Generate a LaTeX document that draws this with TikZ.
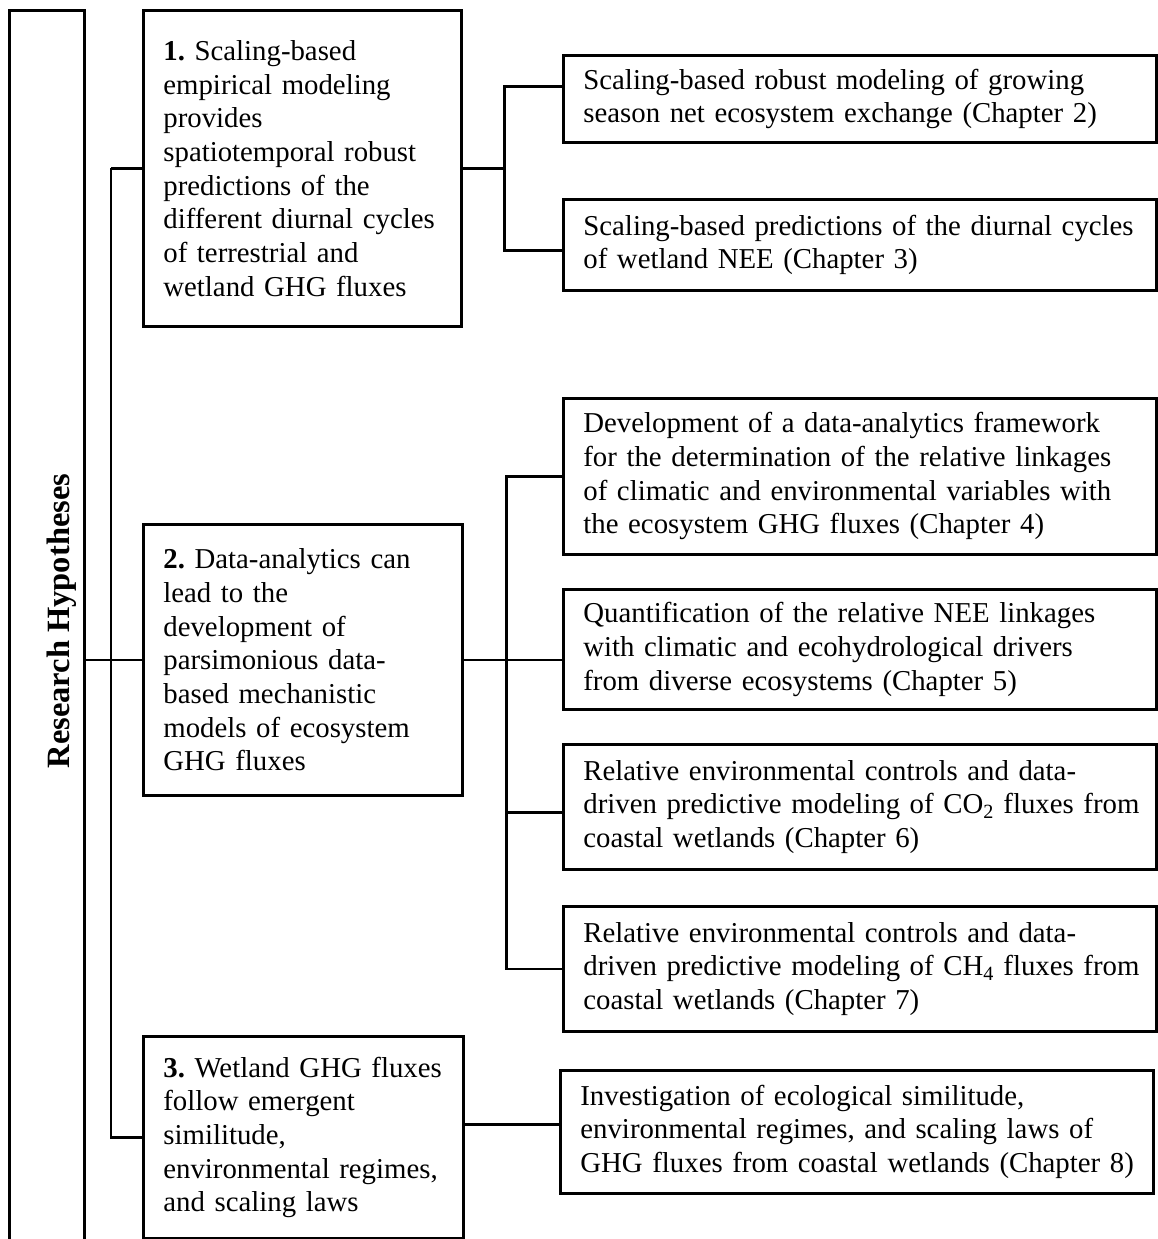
\documentclass[tikz,border=0pt]{standalone}
\usepackage{fontspec}
\setmainfont{Liberation Serif}
\usepackage{tikz}

\newcommand\boxfont{\fontsize{28.8}{33.7}\selectfont\frenchspacing}
\tikzset{
  hypbox/.style={draw, line width=2.8pt, anchor=north west, align=left,
    inner xsep=20pt, inner ysep=0pt, font=\boxfont},
  chapbox/.style={hypbox, text width=553pt, minimum width=593pt},
  link/.style={line width=2.8pt}
}

\begin{document}
\begin{tikzpicture}[x=1pt,y=-1pt]
 \useasboundingbox (0,0) rectangle (1157,1239);
 \node[draw, line width=2.8pt, anchor=north west, minimum width=75pt, minimum height=1300pt, inner sep=0pt] (rh) at (8,9) {};
 \node[rotate=90, font=\fontsize{32.5}{37}\selectfont\bfseries] (rhtext) at (62,621) {Research Hypotheses};

 \node[hypbox, text width=278pt, minimum width=318pt, minimum height=316pt] (b1) at (142,9)
  {\textbf{1.} Scaling-based\\ empirical modeling\\ provides\\ spatiotemporal robust\\ predictions of the\\ different diurnal cycles\\ of terrestrial and\\ wetland GHG fluxes};
 \node[hypbox, text width=279pt, minimum width=319pt, minimum height=271pt] (b2) at (142,523)
  {\textbf{2.} Data-analytics can\\ lead to the\\ development of\\ parsimonious data-\\ based mechanistic\\ models of ecosystem\\ GHG fluxes};
 \node[hypbox, text width=280pt, minimum width=320pt, minimum height=202pt] (b3) at (142,1035)
  {\textbf{3.} Wetland GHG fluxes\\ follow emergent\\ similitude,\\ environmental regimes,\\ and scaling laws};

 \node[chapbox, minimum height=87pt] (r1) at (562,54)
  {Scaling-based robust modeling of growing\\ season net ecosystem exchange (Chapter 2)};
 \node[chapbox, minimum height=91pt] (r2) at (562,198)
  {\mbox{Scaling-based predictions of the diurnal cycles}\\ of wetland NEE (Chapter 3)};
 \node[chapbox, minimum height=156pt] (r3) at (562,397)
  {Development of a data-analytics framework\\ for the determination of the relative linkages\\ of climatic and environmental variables with\\ the ecosystem GHG fluxes (Chapter 4)};
 \node[chapbox, minimum height=120pt] (r4) at (562,588)
  {Quantification of the relative NEE linkages\\ with climatic and ecohydrological drivers\\ from diverse ecosystems (Chapter 5)};
 \node[chapbox, minimum height=125pt] (r5) at (562,743)
  {Relative environmental controls and data-\\ \mbox{driven predictive modeling of CO\textsubscript{2} fluxes from}\\ coastal wetlands (Chapter 6)};
 \node[chapbox, minimum height=125pt] (r6) at (562,905)
  {Relative environmental controls and data-\\ \mbox{driven predictive modeling of CH\textsubscript{4} fluxes from}\\ coastal wetlands (Chapter 7)};
 \node[chapbox, minimum height=123pt] (r7) at (559,1069)
  {Investigation of ecological similitude,\\ environmental regimes, and scaling laws of\\ \mbox{GHG fluxes from coastal wetlands (Chapter 8)}};

 \draw[link] (b1.west) -- ++(-31,0) coordinate (t1);
 \draw[link] (t1) |- (b3.west);
 \draw[link] (rh.east |- b2.west) -- (b2.west);

 \coordinate (j1) at ([xshift=42pt]b1.east);
 \draw[link] (b1.east) -- (j1);
 \draw[link] ([yshift=12.5pt]r1.west) -| (j1) |- ([yshift=-5.5pt]r2.west);

 \coordinate (j2) at ([xshift=43pt]b2.east);
 \draw[link] (b2.east) -- (b2.east -| r4.west);
 \draw[link] (r3.west) -| (j2) |- (r6.west);
 \draw[link] ([yshift=-5.5pt]r5.west) -- ([yshift=-5.5pt]r5.west -| j2);

 \draw[link] ([yshift=7.5pt]r7.west) -- ([yshift=7.5pt]r7.west -| b3.east);
\end{tikzpicture}
\end{document}
